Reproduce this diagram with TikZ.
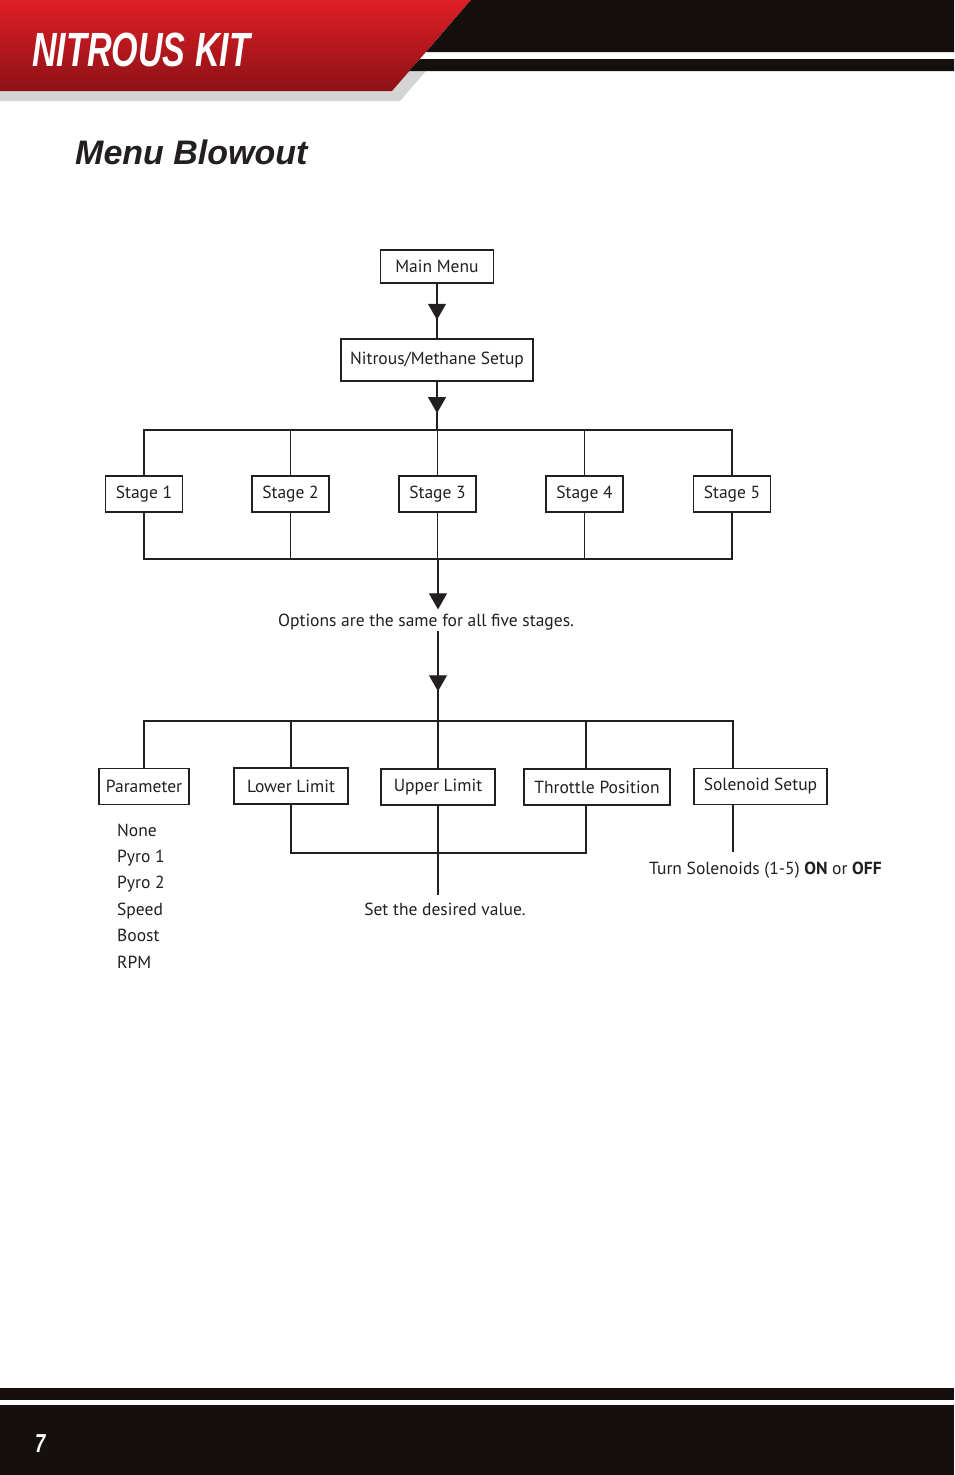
\documentclass[tikz,border=0pt]{standalone}
\usepackage{fontspec}
\setmainfont{PT Sans}
\newfontfamily\headfont[FakeStretch=0.71]{Liberation Sans}
\newfontfamily\titlefont{Liberation Sans}
\usetikzlibrary{arrows.meta, decorations.markings, calc}
\definecolor{ink}{HTML}{231F20}
\definecolor{kitred}{HTML}{E01F26}
\definecolor{kitdark}{HTML}{8C1116}
\definecolor{band}{HTML}{15100E}
\definecolor{shadow}{HTML}{D4D4D4}

\begin{document}
\begin{tikzpicture}[x=1pt, y=-1pt,
  box/.style={rectangle, draw=ink, line width=1.2pt, minimum height=36pt, inner xsep=0pt,
    font=\fontsize{17.5}{20}\selectfont, text=ink},
  txt/.style={font=\fontsize{17.5}{20}\selectfont, text=ink, inner sep=1pt},
  link/.style={draw=ink, color=ink, line width=1.2pt},
  thinlink/.style={draw=ink, line width=0.7pt},
  midtri/.style={decoration={markings, mark=at position #1 with {\arrow{Triangle[length=16pt,width=18pt]}}},
    postaction=decorate}
]
\useasboundingbox (0,0) rectangle (954,1475);
\fill[white] (0,0) rectangle (954,1475);

% header
\fill[shadow] (0,71) -- (426,71) -- (400,101) -- (0,101) -- cycle;
\shade[top color=kitred, bottom color=kitdark] (0,0) -- (471,0) -- (392,91) -- (0,91) -- cycle;
\fill[band] (471,0) -- (954,0) -- (954,52) -- (426,52) -- cycle;
\fill[band] (420,59) -- (954,59) -- (954,71) -- (409,71) -- cycle;
\node[anchor=base west, text=white, inner sep=0pt,
  font=\headfont\bfseries\itshape\fontsize{48}{50}\selectfont] (kit) at (32,66) {NITROUS KIT};
\node[anchor=base west, text=ink, inner sep=0pt,
  font=\titlefont\bfseries\itshape\fontsize{34}{40}\selectfont] (title) at (75,164) {Menu Blowout};

% footer
\fill[band] (0,1388) rectangle (954,1400);
\fill[band] (0,1405) rectangle (954,1475);
\node[anchor=base west, text=white, inner sep=0pt,
  font=\headfont\bfseries\itshape\fontsize{26}{28}\selectfont] (page) at (35,1452) {7};

% menu tree
\node[box, minimum width=113pt, minimum height=33pt] (main) at (437,266.5) {Main Menu};
\node[box, minimum width=192pt, minimum height=42pt] (nms) at (437,360) {Nitrous/Methane Setup};
\draw[link, midtri=0.66] (main) -- (nms);

\foreach \i/\x in {1/144,2/290.5,3/437.5,4/584.5,5/732}
  \node[box, minimum width=77pt] (s\i) at (\x,494) {Stage \i};

\coordinate (sfork) at (437,430);
\coordinate (sjoin) at (438,559);
\draw[link, midtri=0.65] (nms) -- (sfork);
\draw[link] (s1.north) -- (s1.north |- sfork) -- (s5.north |- sfork) -- (s5.north);
\draw[thinlink] (s2.north) -- (s2.north |- sfork);
\draw[link] (s3.north) -- (s3.north |- sfork);
\draw[link] (s4.north) -- (s4.north |- sfork);
\draw[link] (s1.south) -- (s1.south |- sjoin) -- (s5.south |- sjoin) -- (s5.south);
\draw[link] (s2.south) -- (s2.south |- sjoin);
\draw[thinlink] (s3.south) -- (s3.south |- sjoin);
\draw[thinlink] (s4.south) -- (s4.south |- sjoin);

\node[txt, anchor=base] (opts) at (426,626) {Options are the same for all five stages.};
\draw[link, -{Triangle[length=16pt,width=18pt]}, shorten >=3pt] (sjoin) -- (sjoin |- opts.north);

\coordinate (pfork) at (438,721);
\draw[link, midtri=0.67] (pfork |- opts.south) -- (pfork);

\node[box, minimum width=90pt] (param) at (144,786.5) {Parameter};
\node[box, minimum width=114pt] (lower) at (291,786) {Lower Limit};
\node[box, minimum width=114pt] (upper) at (438,787) {Upper Limit};
\node[box, minimum width=146pt] (throttle) at (597,787) {Throttle Position};
\node[box, minimum width=133pt] (solenoid) at (760.5,786.5) {Solenoid Setup};

\coordinate (f4) at (586,721);
\coordinate (f5) at (733,721);
\draw[link] (param.north) -- (param.north |- pfork) -- (f5) -- (f5 |- solenoid.north);
\draw[link] (lower.north) -- (lower.north |- pfork);
\draw[link] (upper.north) -- (pfork);
\draw[link] (f4) -- (f4 |- throttle.north);

\coordinate (vjoin) at (438,853);
\draw[link] (lower.south) -- (lower.south |- vjoin) -- (f4 |- vjoin) -- (f4 |- throttle.south);
\draw[link] (upper.south) -- (vjoin);

\node[txt, anchor=base] (setval) at (445,915) {Set the desired value.};
\draw[link, shorten >=6pt] (vjoin) -- (vjoin |- setval.north);

\node[txt, anchor=base west] (turn) at (648,874) {Turn Solenoids (1-5) \textbf{ON} or \textbf{OFF}};
\draw[link, shorten >=8pt] (f5 |- solenoid.south) -- (f5 |- turn.north);

\foreach \p [count=\k] in {None,Pyro 1,Pyro 2,Speed,Boost,RPM}
  \node[txt, anchor=base west] (opt\k) at (116,809.6+26.4*\k) {\p};
\end{tikzpicture}
\end{document}
